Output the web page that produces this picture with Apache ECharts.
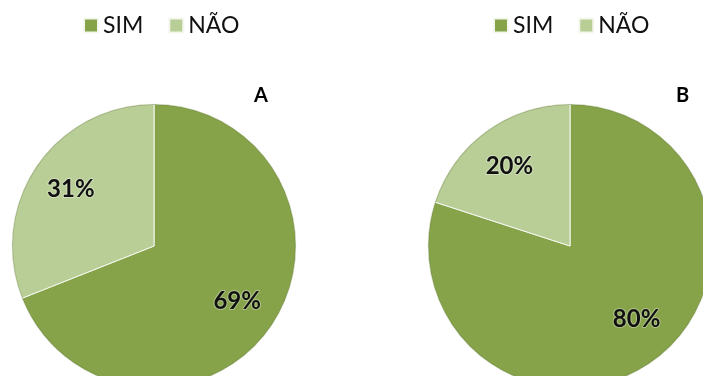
<!DOCTYPE html>
<html>
<head>
<meta charset="utf-8">
<script src="https://cdn.jsdelivr.net/npm/echarts@6/dist/echarts.min.js"></script>
<style>
  html, body { margin: 0; padding: 0; background: #fff; }
  #chart { width: 703px; height: 376px; }
</style>
</head>
<body>
<div id="chart"></div>
<script>
// Answer categories and shares (percent) for the two groups
const categories = ['SIM', 'NÃO'];
const valuesA = [69, 31];
const valuesB = [80, 20];
const panelTitles = ['A', 'B'];

const colors = ['#86A34A', '#B9CE96'];

const panels = [
  { values: valuesA, center: [154, 246], title: panelTitles[0], titlePos: [249, 81], legendLeft: 78,
    labelOffsets: [[-2, -3], [2, 1]] },
  { values: valuesB, center: [570, 246], title: panelTitles[1], titlePos: [671, 81], legendLeft: 488,
    labelOffsets: [[6, -10], [0, 4]] }
];

function toData(values, offsets) {
  return categories.map((name, i) => {
    const item = { name, value: values[i] };
    if (offsets) item.label = { offset: offsets[i] };
    return item;
  });
}

const series = [];
const legends = [];
const titles = [];

panels.forEach((p, idx) => {
  // filled slices
  series.push({
    type: 'pie',
    name: 'pie' + idx,
    center: p.center,
    radius: 142,
    startAngle: 90,
    clockwise: true,
    silent: true,
    label: { show: false },
    labelLine: { show: false },
    itemStyle: { borderColor: '#f4f7ee', borderWidth: 1 },
    emphasis: { disabled: true },
    data: toData(p.values)
  });
  // thin darker rim around each pie
  series.push({
    type: 'pie',
    name: 'rim' + idx,
    center: p.center,
    radius: [141, 142],
    startAngle: 90,
    silent: true,
    label: { show: false },
    labelLine: { show: false },
    itemStyle: { color: 'rgba(90,110,50,0.35)' },
    emphasis: { disabled: true },
    data: [{ name: 'rim', value: 1 }]
  });
  // percentage labels, placed further out than the default inside position
  series.push({
    type: 'pie',
    name: 'lbl' + idx,
    center: p.center,
    radius: 200,
    startAngle: 90,
    clockwise: true,
    silent: true,
    itemStyle: { color: 'rgba(0,0,0,0)' },
    label: {
      show: true,
      position: 'inside',
      formatter: '{c}%',
      fontFamily: 'Lato',
      fontWeight: 'bold',
      fontSize: 24,
      color: '#111',
      textBorderColor: 'rgba(255,255,255,0.35)',
      textBorderWidth: 2
    },
    labelLine: { show: false },
    emphasis: { disabled: true },
    data: toData(p.values, p.labelOffsets)
  });
  legends.push({
    data: categories,
    left: p.legendLeft,
    top: 9,
    itemWidth: 14,
    itemHeight: 14,
    itemGap: 25,
    icon: 'rect',
    selectedMode: false,
    textStyle: { fontFamily: 'Lato', fontSize: 23, color: '#111' }
  });
  titles.push({
    text: p.title,
    left: p.titlePos[0],
    top: p.titlePos[1],
    textStyle: { fontFamily: 'Lato', fontWeight: 'bold', fontSize: 20, color: '#000' }
  });
});

const chart = echarts.init(document.getElementById('chart'), null, { renderer: 'canvas' });
chart.setOption({
  animation: false,
  color: colors,
  title: titles,
  legend: legends,
  series: series
});
</script>
</body>
</html>
